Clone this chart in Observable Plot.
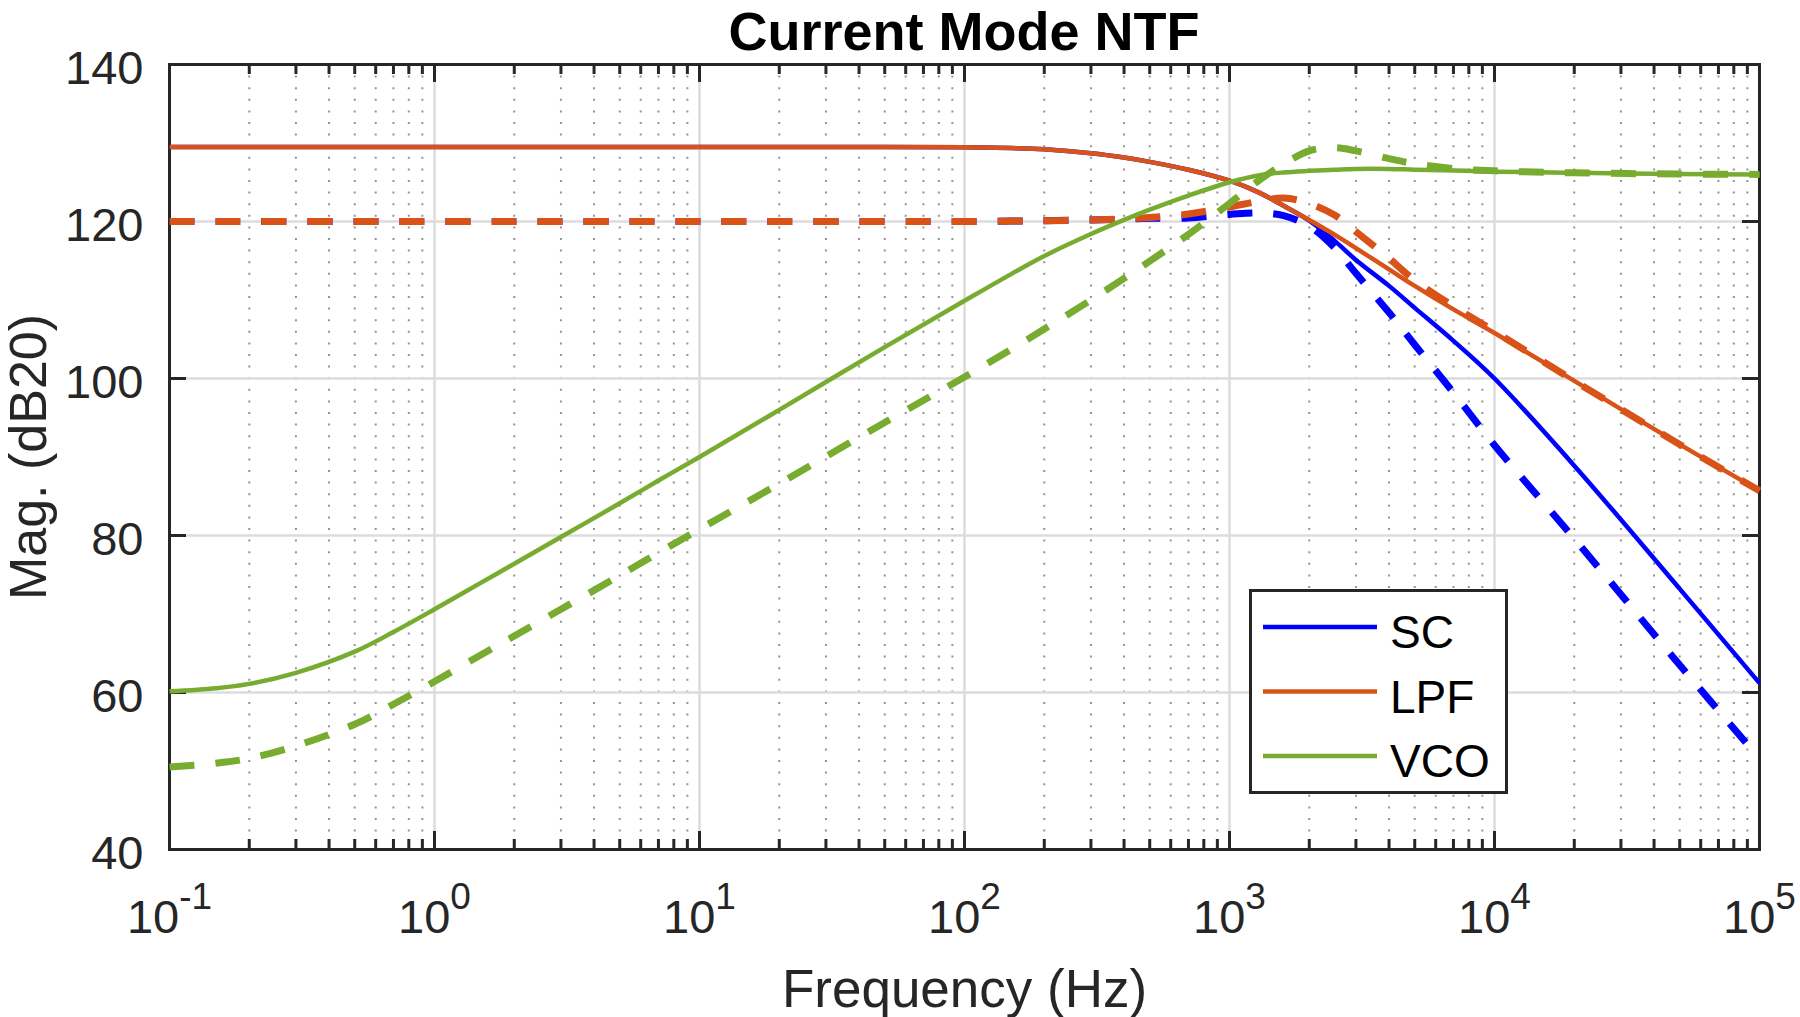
<!DOCTYPE html>
<html><head><meta charset="utf-8">
<script src="https://cdn.jsdelivr.net/npm/d3@7"></script>
<script src="https://cdn.jsdelivr.net/npm/@observablehq/plot@0.6"></script>
<style>
html,body{margin:0;padding:0;background:#fff;}
#wrap{position:relative;width:1800px;height:1017px;overflow:hidden;font-family:"Liberation Sans",Arial,Helvetica,sans-serif;}
#title{position:absolute;left:169px;width:1590px;top:0;font-size:54px;line-height:normal;font-weight:bold;text-align:center;color:#000;white-space:nowrap;}
#chart{position:absolute;left:0;top:48px;}
#legend{position:absolute;left:1249px;top:589px;}
</style></head>
<body><div id="wrap"><div id="chart"></div><div id="title">Current Mode NTF</div></div>
<script>
// ---- data ----
const freq = [0.1, 0.15, 0.2, 0.3, 0.5, 0.7, 1, 1.5, 2, 3, 5, 7, 10, 20, 50, 100, 150, 200, 300, 400, 500, 700, 1000, 1300, 1600, 2000, 2500, 3000, 4000, 5000, 7000, 10000, 20000, 50000, 100000];
const scSolid   = [129.5,129.5,129.5,129.5,129.5,129.5,129.5,129.5,129.5,129.5,129.5,129.5,129.5,129.5,129.5,129.45,129.35,129.2,128.7,128.15,127.6,126.6,125.2,123.65,122.0,120.1,117.5,115.1,111.8,109.0,104.8,100.0,88.9,73.2,61.2];
const lpfSolid  = [129.5,129.5,129.5,129.5,129.5,129.5,129.5,129.5,129.5,129.5,129.5,129.5,129.5,129.5,129.5,129.45,129.35,129.2,128.7,128.15,127.6,126.6,125.2,123.65,122.0,120.2,118.3,116.6,113.9,111.8,108.8,105.8,99.7,91.6,85.7];
const scDashed  = [120.0,120.0,120.0,120.0,120.0,120.0,120.0,120.0,120.0,120.0,120.0,120.0,120.0,120.0,120.0,120.0,120.05,120.1,120.2,120.3,120.4,120.45,120.9,121.1,120.75,119.4,116.6,113.4,108.4,104.3,98.2,91.5,79.6,63.5,51.6];
const lpfDashed = [120.0,120.0,120.0,120.0,120.0,120.0,120.0,120.0,120.0,120.0,120.0,120.0,120.0,120.0,120.0,120.0,120.05,120.1,120.2,120.35,120.5,120.95,121.85,122.6,123.0,122.3,120.8,118.7,115.3,112.5,109.2,106.0,99.7,91.6,85.7];
const vcoSolid  = [60.15,60.55,61.1,62.5,65.2,67.7,70.6,74.0,76.4,79.8,84.1,87.0,90.0,96.0,104.0,109.9,113.3,115.6,118.4,120.2,121.5,123.3,125.0,125.9,126.25,126.45,126.6,126.7,126.7,126.6,126.5,126.35,126.2,126.05,126.0];
const vcoDashed = [50.5,51.0,51.6,53.2,55.95,58.5,61.4,64.8,67.2,70.6,74.9,77.8,80.8,86.6,94.4,100.2,103.7,106.3,110.0,112.75,114.95,118.35,122.3,125.3,127.3,129.0,129.4,129.0,128.0,127.35,126.75,126.45,126.2,126.05,126.0];

const seriesNames  = ["SC", "LPF", "VCO"];
const seriesColors = ["#0000FF", "#D95319", "#77AC30"];
const xTickValues = [0.1, 1, 10, 100, 1000, 10000, 100000];
const xTickExponents = ["-1", "0", "1", "2", "3", "4", "5"];
const yTickValues = [40, 60, 80, 100, 120, 140];
const xLabel = "Frequency (Hz)";
const yLabel = "Mag. (dB20)";

// ---- layout ----
const W = 1800, H = 969, mT = 16, mB = 168, mL = 169, mR = 41;
const PW = W - mL - mR, PH = H - mT - mB;
const colorOf = n => seriesColors[seriesNames.indexOf(n)];

const minorX = [];
for (let e = -1; e < 5; e++) for (let m = 2; m < 10; m++) minorX.push(m * Math.pow(10, e));

const curves = [
  {name: "SC",  values: scSolid,   dashed: false},
  {name: "LPF", values: lpfSolid,  dashed: false},
  {name: "SC",  values: scDashed,  dashed: true},
  {name: "LPF", values: lpfDashed, dashed: true},
  {name: "VCO", values: vcoSolid,  dashed: false},
  {name: "VCO", values: vcoDashed, dashed: true}
];

const ink = "#262626";
const lineMarks = curves.map(c => Plot.line(freq.map((f, i) => ({f, v: c.values[i]})), {
  x: "f", y: "v", stroke: colorOf(c.name),
  strokeWidth: c.dashed ? 7 : 4.5,
  strokeDasharray: c.dashed ? "25 21" : null,
  strokeLinecap: "butt", strokeLinejoin: "round", curve: "catmull-rom"
}));

const chart = Plot.plot({
  width: W, height: H,
  marginTop: mT, marginBottom: mB, marginLeft: mL, marginRight: mR,
  style: {fontFamily: '"Liberation Sans", Arial, Helvetica, sans-serif', background: "transparent", overflow: "visible"},
  x: {type: "log", domain: [0.1, 100000], axis: null},
  y: {domain: [40, 140], axis: null},
  marks: [
    // grid
    Plot.ruleX(minorX, {stroke: "#949494", strokeWidth: 2, strokeDasharray: "2 9.6"}),
    Plot.ruleX(xTickValues, {stroke: "#dcdcdc", strokeWidth: 2.5}),
    Plot.ruleY(yTickValues, {stroke: "#dcdcdc", strokeWidth: 2.5}),
    // ticks (inward, all four sides)
    Plot.ruleX(xTickValues, {insetTop: PH - 18, stroke: ink, strokeWidth: 3}),
    Plot.ruleX(xTickValues, {insetBottom: PH - 18, stroke: ink, strokeWidth: 3}),
    Plot.ruleX(minorX, {insetTop: PH - 10, stroke: ink, strokeWidth: 3}),
    Plot.ruleX(minorX, {insetBottom: PH - 10, stroke: ink, strokeWidth: 3}),
    Plot.ruleY(yTickValues, {insetRight: PW - 17, stroke: ink, strokeWidth: 3}),
    Plot.ruleY(yTickValues, {insetLeft: PW - 17, stroke: ink, strokeWidth: 3}),
    Plot.frame({stroke: ink, strokeWidth: 3}),
    // tick labels
    Plot.text(xTickValues, {x: d => d, frameAnchor: "bottom", dy: 50, lineAnchor: "top",
      text: (d, i) => "10^" + xTickExponents[i], fontSize: 47, fill: ink}),
    Plot.text(yTickValues, {y: d => d, frameAnchor: "left", dx: -26, dy: 4, textAnchor: "end",
      text: d => String(d), fontSize: 47, fill: ink}),
    // axis labels
    Plot.text([xLabel], {frameAnchor: "bottom", dy: 157, lineAnchor: "bottom", text: d => d, fontSize: 53, fill: ink}),
    Plot.text([yLabel], {frameAnchor: "left", dx: -124, rotate: -90, textAnchor: "middle", lineAnchor: "bottom", text: d => d, fontSize: 52, fill: ink}),
    // data
    ...lineMarks
  ]
});
document.getElementById("chart").appendChild(chart);

// superscript exponents on the x tick labels
d3.select(chart).selectAll("text").each(function () {
  const m = /^10\^(-?\d+)$/.exec(this.textContent);
  if (!m) return;
  const t = d3.select(this);
  t.text("10");
  t.append("tspan").attr("dy", -24).attr("font-size", 37).text(m[1]);
});

// legend
const leg = d3.select("#wrap").append("svg").attr("id", "legend").attr("width", 259).attr("height", 205);
leg.append("rect").attr("x", 1.5).attr("y", 1.5).attr("width", 256).attr("height", 202)
  .attr("fill", "#fff").attr("stroke", ink).attr("stroke-width", 3);
seriesNames.forEach((n, i) => {
  const y = 38 + i * 64.5;
  leg.append("line").attr("x1", 14).attr("x2", 128).attr("y1", y).attr("y2", y)
    .attr("stroke", seriesColors[i]).attr("stroke-width", 4.5);
  leg.append("text").attr("x", 141).attr("y", y + 21).attr("font-size", 46)
    .attr("font-family", '"Liberation Sans", Arial, sans-serif').attr("fill", "#000").text(n);
});
</script></body></html>
